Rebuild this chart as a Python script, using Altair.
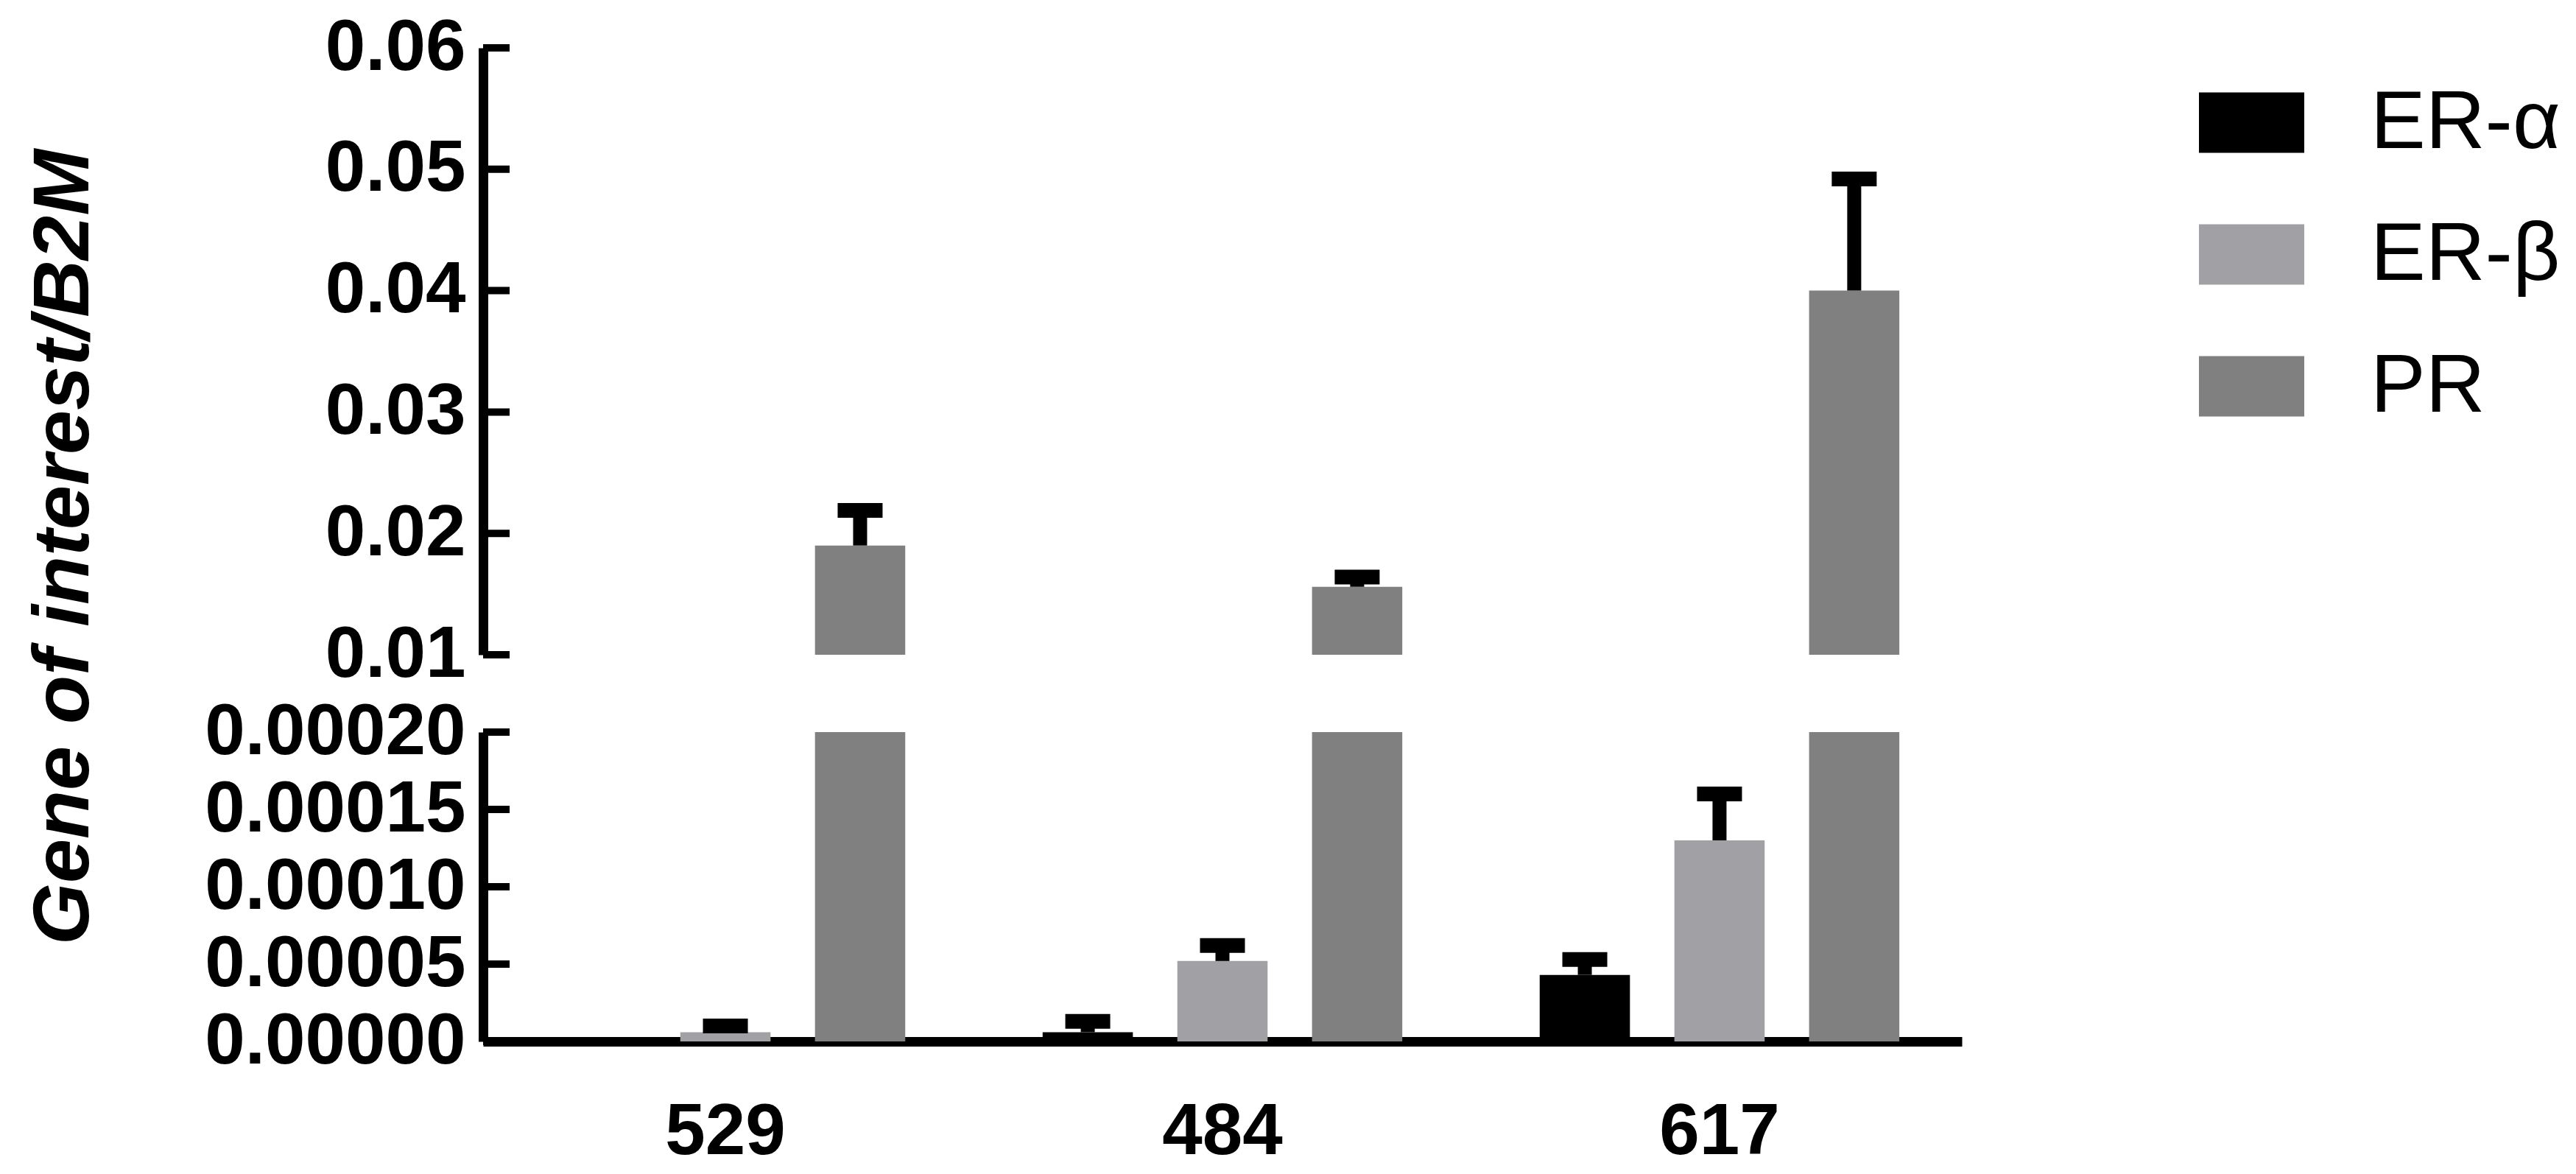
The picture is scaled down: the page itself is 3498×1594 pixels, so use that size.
import altair as alt
import pandas as pd

# ---- data ----
cell_lines = ["529", "484", "617"]
genes = ["ER-α", "ER-β", "PR"]
er_alpha = [0.0, 0.000006, 0.000043]
er_alpha_sem = [0.0, 0.000007, 0.000010]
er_beta = [0.000006, 0.000052, 0.000130]
er_beta_sem = [0.000004, 0.000010, 0.000030]
pr = [0.0190, 0.0156, 0.0400]
pr_sem = [0.0029, 0.0008, 0.0092]
gene_colors = ["#000000", "#a1a1a5", "#808080"]
top_ticks = [0.01, 0.02, 0.03, 0.04, 0.05, 0.06]
bottom_ticks = [0.0, 0.00005, 0.00010, 0.00015, 0.00020]

rows = []
for g, vals, sems in zip(genes, [er_alpha, er_beta, pr], [er_alpha_sem, er_beta_sem, pr_sem]):
    for c, v, s in zip(cell_lines, vals, sems):
        rows.append({"line": c, "gene": g, "value": v, "sem": s, "upper": v + s})
df = pd.DataFrame(rows)

FONT = "Liberation Sans"
W = 2008
H_TOP = 824
H_BOT = 420
NO_FRAME = alt.ViewBackground(stroke="transparent", strokeWidth=0)

x_scale = alt.Scale(domain=cell_lines, paddingInner=0.187, paddingOuter=0.081)
off_scale = alt.Scale(domain=genes, paddingInner=0.33, paddingOuter=0.165)
color_scale = alt.Scale(domain=genes, range=gene_colors)


def yaxis(vals, fmt):
    return alt.Axis(values=vals, format=fmt, ticks=False, tickSize=0, grid=False, title=None,
                    labelFont=FONT, labelFontSize=98, labelFontWeight="bold", labelColor="black",
                    labelPadding=24, labelLimit=0, domainColor="black", domainWidth=13)


# ---------- top panel ----------
top_scale = alt.Scale(domain=[0.01, 0.06], zero=False, nice=False)
top_df = df[df["value"] > 0.01]

top_bars = alt.Chart(top_df).mark_bar().encode(
    x=alt.X("line:N", scale=x_scale, axis=None, sort=cell_lines),
    xOffset=alt.XOffset("gene:N", scale=off_scale),
    y=alt.Y("value:Q", scale=top_scale, axis=yaxis(top_ticks, ".2f")),
    y2=alt.datum(0.01),
    color=alt.Color(
        "gene:N", scale=color_scale,
        legend=alt.Legend(
            title=None, orient="none", legendX=2330, legendY=30, padding=0,
            symbolType="M-1,-0.573H1V0.573H-1Z", symbolSize=20449, symbolStrokeWidth=0,
            symbolOpacity=1, labelFont=FONT, labelFontSize=112, labelColor="black",
            labelOffset=90, rowPadding=51, labelLimit=0,
        ),
    ),
)
top_stem = alt.Chart(top_df).mark_rule(color="black", strokeWidth=19).encode(
    x=alt.X("line:N", scale=x_scale, axis=None, sort=cell_lines),
    xOffset=alt.XOffset("gene:N", scale=off_scale),
    y=alt.Y("value:Q", scale=top_scale),
    y2="upper:Q",
)
top_cap = alt.Chart(top_df).mark_tick(color="black", thickness=20, size=61, opacity=1).encode(
    x=alt.X("line:N", scale=x_scale, axis=None, sort=cell_lines),
    xOffset=alt.XOffset("gene:N", scale=off_scale),
    y=alt.Y("upper:Q", scale=top_scale),
)
top_tick_marks = alt.Chart(pd.DataFrame({"t": top_ticks})).mark_rule(color="black", strokeWidth=10).encode(
    y=alt.Y("t:Q", scale=top_scale), x=alt.value(0), x2=alt.value(36)
)
top = alt.layer(top_bars, top_stem, top_cap, top_tick_marks).properties(
    width=W, height=H_TOP, view=NO_FRAME)

# ---------- bottom panel ----------
bot_scale = alt.Scale(domain=[0, 0.0002], nice=False, clamp=True)
err_df = df[(df["upper"] <= 0.0002) & (df["sem"] > 0)]

bot_bars = alt.Chart(df).mark_bar().encode(
    x=alt.X("line:N", scale=x_scale, sort=cell_lines,
            axis=alt.Axis(title=None, ticks=False, labelAngle=0, labelFont=FONT, labelFontSize=98,
                          labelFontWeight="bold", labelColor="black", labelPadding=75,
                          domainColor="black", domainWidth=13, grid=False)),
    xOffset=alt.XOffset("gene:N", scale=off_scale),
    y=alt.Y("value:Q", scale=bot_scale, axis=yaxis(bottom_ticks, ".5f")),
    color=alt.Color("gene:N", scale=color_scale, legend=None),
)
bot_stem = alt.Chart(err_df).mark_rule(color="black", strokeWidth=19).encode(
    x=alt.X("line:N", scale=x_scale, sort=cell_lines),
    xOffset=alt.XOffset("gene:N", scale=off_scale),
    y=alt.Y("value:Q", scale=bot_scale),
    y2="upper:Q",
)
bot_cap = alt.Chart(err_df).mark_tick(color="black", thickness=20, size=61, opacity=1).encode(
    x=alt.X("line:N", scale=x_scale, sort=cell_lines),
    xOffset=alt.XOffset("gene:N", scale=off_scale),
    y=alt.Y("upper:Q", scale=bot_scale),
)
bot_tick_marks = alt.Chart(pd.DataFrame({"t": bottom_ticks})).mark_rule(color="black", strokeWidth=10).encode(
    y=alt.Y("t:Q", scale=bot_scale), x=alt.value(0), x2=alt.value(36)
)
bottom = alt.layer(bot_bars, bot_stem, bot_cap, bot_tick_marks).properties(
    width=W, height=H_BOT, view=NO_FRAME)

chart = alt.vconcat(top, bottom, spacing=7).resolve_legend(color="independent").properties(
    title=alt.TitleParams(
        "Gene of interest/B2M", orient="left", anchor="middle",
        font=FONT, fontSize=108, fontStyle="italic", fontWeight="bold", color="black", offset=135,
        dx=58,
    ),
    padding={"left": 25, "top": 8, "right": 10, "bottom": 10},
).configure_view(strokeWidth=0, stroke="transparent").configure(background="white")

chart.save("out.html", embed_options={"renderer": "svg", "actions": False})
